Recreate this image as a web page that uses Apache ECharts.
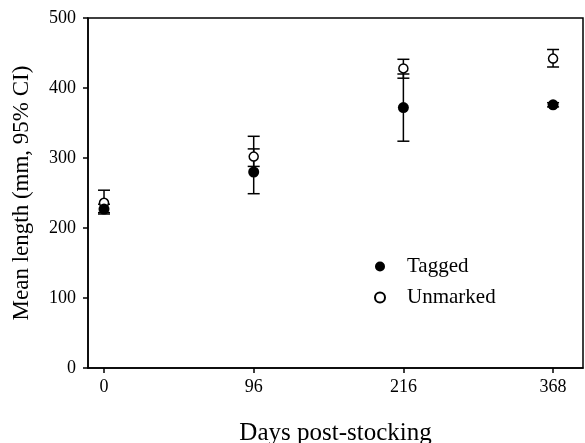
<!DOCTYPE html>
<html>
<head>
<meta charset="utf-8">
<script src="https://cdn.jsdelivr.net/npm/echarts@6/dist/echarts.min.js"></script>
<style>
  html, body { margin: 0; padding: 0; background: #fff; }
  #main { width: 585px; height: 443px; }
</style>
</head>
<body>
<div id="main"></div>
<script>
// days post-stocking (drawn as evenly spaced positions)
const days = ['0', '96', '216', '368']

const taggedMean = [227, 280, 372, 376]
const taggedLow = [220, 249, 324, 373]
const taggedHigh = [234, 313, 420, 379]

const unmarkedMean = [236, 302, 428, 442]
const unmarkedLow = [222, 288, 414, 430]
const unmarkedHigh = [254, 331, 441, 455]

const font = 'Liberation Serif'
const chart = echarts.init(document.getElementById('main'))

function errData(low, high) {
  return days.map((d, i) => [i, low[i], high[i]])
}

function errBars(params, api) {
  const top = api.coord([api.value(0), api.value(2)])
  const bot = api.coord([api.value(0), api.value(1)])
  const half = 6
  const style = { stroke: '#000', lineWidth: 1.5 }
  return {
    type: 'group',
    children: [
      { type: 'line', shape: { x1: top[0], y1: top[1], x2: bot[0], y2: bot[1] }, style: style },
      { type: 'line', shape: { x1: top[0] - half, y1: top[1], x2: top[0] + half, y2: top[1] }, style: style },
      { type: 'line', shape: { x1: bot[0] - half, y1: bot[1], x2: bot[0] + half, y2: bot[1] }, style: style }
    ]
  }
}

chart.setOption({
  animation: false,
  grid: {
    left: 88,
    right: 2,
    top: 18,
    bottom: 75,
    outerBoundsMode: 'none',
    containLabel: false,
    show: true,
    borderColor: '#000',
    borderWidth: 1.5,
    backgroundColor: 'transparent'
  },
  legend: {
    orient: 'vertical',
    left: 369,
    top: 251,
    itemWidth: 28,
    itemHeight: 10,
    itemGap: 10,
    data: ['Tagged', 'Unmarked'],
    textStyle: { fontFamily: font, fontSize: 21, color: '#000', padding: [0, 0, 0, 8] }
  },
  xAxis: {
    type: 'value',
    min: -0.107,
    max: 3.2,
    name: 'Days post-stocking',
    nameLocation: 'middle',
    nameGap: 53,
    nameTextStyle: { fontFamily: font, fontSize: 25, color: '#000' },
    axisLine: { onZero: false, lineStyle: { color: '#000', width: 1.5 } },
    axisTick: { show: true, length: 5, lineStyle: { color: '#000', width: 1.5 }, customValues: [0, 1, 2, 3] },
    axisLabel: {
      fontFamily: font, fontSize: 18, color: '#000', margin: 10,
      customValues: [0, 1, 2, 3],
      formatter: v => days[Math.round(v)]
    },
    splitLine: { show: false }
  },
  yAxis: {
    type: 'value',
    min: 0,
    max: 500,
    interval: 100,
    name: 'Mean length (mm, 95% CI)',
    nameLocation: 'middle',
    nameGap: 55,
    nameTextStyle: { fontFamily: font, fontSize: 23, color: '#000' },
    axisLine: { show: true, onZero: false, lineStyle: { color: '#000', width: 1.5 } },
    axisTick: { show: true, length: 5, lineStyle: { color: '#000', width: 1.5 } },
    axisLabel: { fontFamily: font, fontSize: 18, color: '#000', margin: 12 },
    splitLine: { show: false }
  },
  series: [
    {
      name: 'unmarkedErr',
      type: 'custom',
      renderItem: errBars,
      encode: { x: 0, y: [1, 2] },
      data: errData(unmarkedLow, unmarkedHigh),
      z: 1
    },
    {
      name: 'taggedErr',
      type: 'custom',
      renderItem: errBars,
      encode: { x: 0, y: [1, 2] },
      data: errData(taggedLow, taggedHigh),
      z: 1
    },
    {
      name: 'Unmarked',
      type: 'scatter',
      symbol: 'circle',
      symbolSize: 9,
      itemStyle: { color: '#fff', borderColor: '#000', borderWidth: 1.5, opacity: 1 },
      data: unmarkedMean.map((v, i) => [i, v]),
      z: 3
    },
    {
      name: 'Tagged',
      type: 'scatter',
      symbol: 'circle',
      symbolSize: 11,
      itemStyle: { color: '#000', opacity: 1 },
      data: taggedMean.map((v, i) => [i, v]),
      z: 4
    }
  ]
})
</script>
</body>
</html>
